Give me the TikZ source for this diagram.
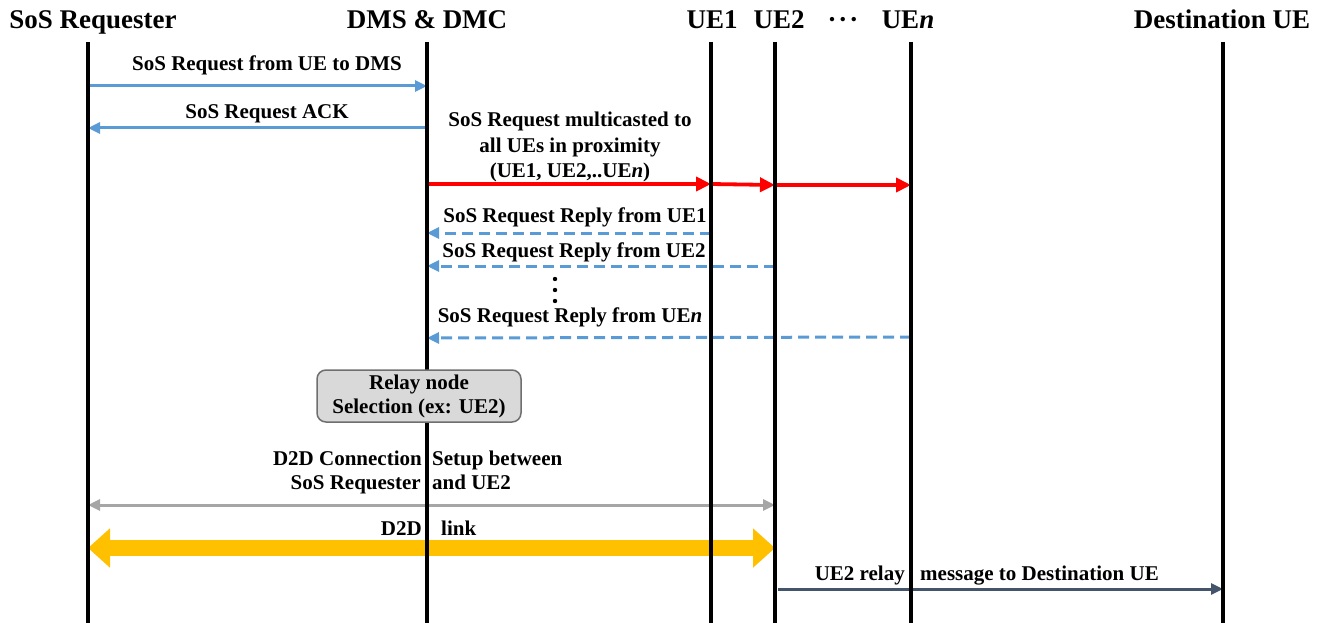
\documentclass[tikz,border=0pt]{standalone}
\usepackage{fontspec}
\setmainfont{Liberation Serif}
\usetikzlibrary{arrows.meta}
\definecolor{msgblue}{HTML}{5B9BD5}
\definecolor{mcred}{HTML}{FF0000}
\definecolor{setupgray}{HTML}{A6A6A6}
\definecolor{linkyellow}{HTML}{FFC000}
\definecolor{relaydark}{HTML}{44546A}
\definecolor{boxfill}{HTML}{D9D9D9}
\definecolor{boxdraw}{HTML}{6F6F6F}
\tikzset{
  head/.style={anchor=base, inner sep=0pt, font=\fontsize{27}{30}\selectfont\bfseries},
  lbl/.style={anchor=base, inner sep=0pt, font=\fontsize{21}{25}\selectfont\bfseries},
  lblr/.style={lbl, anchor=base east},
  lbll/.style={lbl, anchor=base west},
  life/.style={line width=3.5pt, black},
  bluemsg/.style={line width=3pt, msgblue, -{Triangle[length=12pt,width=11pt]}},
  bluedash/.style={bluemsg, dash pattern=on 11pt off 6pt},
  redmsg/.style={line width=3.8pt, mcred, -{Triangle[length=15pt,width=14pt]}},
  graymsg/.style={line width=3pt, setupgray, {Triangle[length=12pt,width=11pt]}-{Triangle[length=12pt,width=11pt]}},
  yellowlink/.style={line width=16pt, linkyellow, {Triangle[length=22pt,width=38pt]}-{Triangle[length=22pt,width=38pt]}},
  darkmsg/.style={line width=3pt, relaydark, -{Triangle[length=12pt,width=11pt]}},
  vdot/.style={fill=black},
  relaybox/.style={draw=boxdraw, line width=1.5pt, fill=boxfill, rounded corners=9pt,
    minimum width=204pt, minimum height=52pt, align=center, inner sep=0pt,
    font=\fontsize{21}{24}\selectfont\bfseries},
}
\begin{document}
\begin{tikzpicture}[x=1pt,y=-1pt]
\useasboundingbox (0,0) rectangle (1327,623);

% headers
\node[head] (hsos) at (93,29) {SoS Requester};
\node[head] (hdms) at (427,29) {DMS \& DMC};
\node[head] (hue1) at (712,29) {UE1};
\node[head] (hue2) at (779,29) {UE2};
\node[head] (hdots) at (843,29) {\textperiodcentered\kern2pt\textperiodcentered\kern2pt\textperiodcentered};
\node[head] (huen) at (908,29) {UE\textit{n}};
\node[head] (hdest) at (1222,29) {Destination UE};

% lifeline coordinates
\foreach \n/\x in {sos/88, dms/427, ue1/711, ue2/775, uen/911, dst/1223}{
  \coordinate (\n T) at (\x,42);
  \coordinate (\n B) at (\x,623);
}

% message endpoints
\coordinate (m1a) at (88,86);   \coordinate (m1b) at (427,86);
\coordinate (m2a) at (427,128); \coordinate (m2b) at (88,128);
\coordinate (r0) at (427,184);  \coordinate (r1) at (711,184);
\coordinate (r2) at (775,185);  \coordinate (r3) at (911,185);
\coordinate (p1a) at (711,233); \coordinate (p1b) at (427,233);
\coordinate (p2a) at (775,266); \coordinate (p2b) at (427,266);
\coordinate (pna) at (911,337); \coordinate (pnb) at (427,338);
\coordinate (ga) at (88,505);   \coordinate (gb) at (775,505);
\coordinate (ya) at (88,548);   \coordinate (yb) at (775,548);
\coordinate (da) at (778,589);  \coordinate (db) at (1223,589);

% messages
\draw[bluemsg] (m1a) -- (m1b);
\node[lbl] (l1) at (267,71) {SoS Request from UE to DMS};
\draw[bluemsg] (m2a) -- (m2b);
\node[lbl] (l2) at (267,118) {SoS Request ACK};

\node[lbl] (l3a) at (570,127) {SoS Request multicasted to};
\node[lbl] (l3b) at (570,152) {all UEs in proximity};
\node[lbl] (l3c) at (570,177) {(UE1, UE2,..UE\textit{n})};
\draw[redmsg] (r0) -- (r1);
\draw[redmsg] (r1) -- (r2);
\draw[redmsg] (r2) -- (r3);

\node[lbl] (l4) at (575,222) {SoS Request Reply from UE1};
\draw[bluedash] (p1a) -- (p1b);
\node[lbl] (l5) at (574,257) {SoS Request Reply from UE2};
\draw[bluedash] (p2a) -- (p2b);
% vertical ellipsis
\foreach \y in {279,290,301}{
  \fill[vdot] (555,\y) circle (2.2pt);
}
\node[lbl] (l6) at (570,322) {SoS Request Reply from UE\textit{n}};
\draw[bluedash] (pna) -- (pnb);

\node[lblr] (l7a) at (422,465) {D2D Connection};
\node[lblr] (l7b) at (421,489) {SoS Requester};
\node[lbll] (l7c) at (432,465) {Setup between};
\node[lbll] (l7d) at (432,489) {and UE2};
\draw[graymsg] (ga) -- (gb);

\node[lblr] (l8a) at (422,535) {D2D};
\node[lbll] (l8b) at (441,535) {link};
\draw[yellowlink] (ya) -- (yb);

\node[lblr] (l9a) at (905,580) {UE2 relay};
\node[lbll] (l9b) at (920,580) {message to Destination UE};
\draw[darkmsg] (da) -- (db);

% lifelines
\foreach \n in {sos,dms,ue1,ue2,uen,dst}{
  \draw[life] (\n T) -- (\n B);
}

% relay selection box
\node[relaybox] (relay) at (419,396) {Relay node\\Selection (ex: UE2)};
\end{tikzpicture}
\end{document}
